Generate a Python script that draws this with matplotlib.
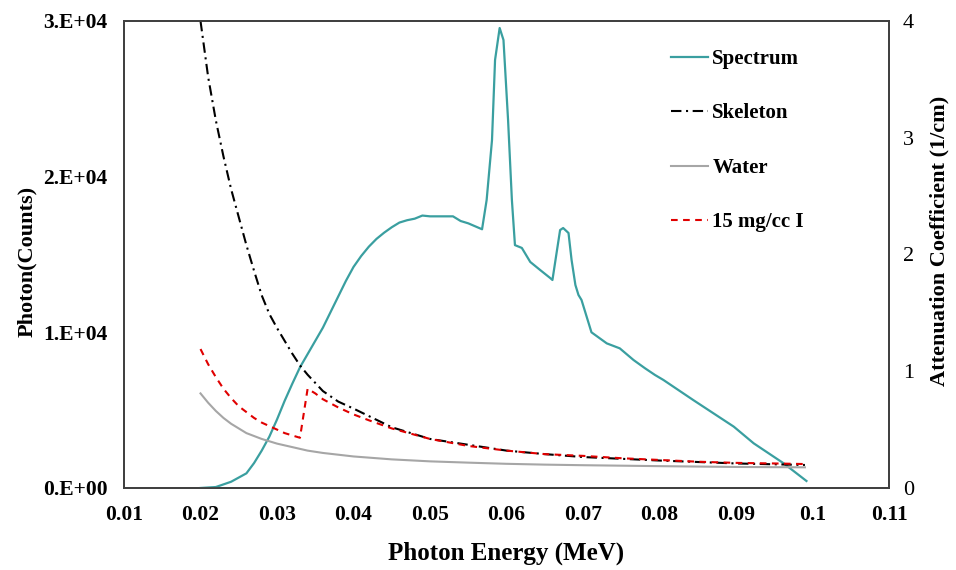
import matplotlib
matplotlib.use("Agg")
import matplotlib.pyplot as plt

plt.rcParams['font.family'] = ['Liberation Serif', 'DejaVu Serif']

# photon spectrum (counts, left axis)
spec_e = [0.020, 0.022, 0.024, 0.026, 0.027, 0.028, 0.029, 0.030, 0.031, 0.032,
          0.033, 0.034, 0.035, 0.036, 0.037, 0.038, 0.039, 0.040, 0.041, 0.042,
          0.043, 0.044, 0.045, 0.046, 0.047, 0.048, 0.049, 0.050, 0.053, 0.054,
          0.055, 0.0568, 0.0574, 0.0581, 0.0585, 0.0591, 0.0596, 0.0602, 0.0607,
          0.0611, 0.062, 0.0631, 0.0644, 0.0657, 0.066, 0.0666, 0.067, 0.0674,
          0.0681, 0.0685, 0.069, 0.0694, 0.0698, 0.0711, 0.0731, 0.0748, 0.0766,
          0.0781, 0.0794, 0.0805, 0.0844, 0.0897, 0.0923, 0.0962, 0.0992]
spec_counts = [0, 60, 400, 940, 1600, 2400, 3300, 4400, 5600, 6700,
               7750, 8600, 9450, 10300, 11300, 12300, 13300, 14200, 14900, 15500,
               16000, 16400, 16750, 17050, 17200, 17300, 17500, 17450, 17450, 17150,
               17000, 16620, 18500, 22350, 27500, 29550, 28780, 23640, 18500,
               15600, 15420, 14520, 14000, 13490, 13360, 15290, 16570, 16700,
               16380, 14650, 13040, 12400, 12077, 10000, 9290, 8970, 8220,
               7690, 7260, 6940, 5650, 3940, 2870, 1590, 450]

# attenuation coefficients (1/cm, right axis)
mu_e = [0.020, 0.021, 0.022, 0.023, 0.024, 0.025, 0.026, 0.027, 0.028, 0.029,
        0.030, 0.031, 0.032, 0.033, 0.034, 0.035, 0.036, 0.038, 0.040, 0.045,
        0.050, 0.055, 0.060, 0.065, 0.070, 0.080, 0.090, 0.099]
mu_skeleton = [4.00, 3.52, 3.15, 2.84, 2.56, 2.32, 2.08, 1.86, 1.65, 1.49,
               1.37, 1.26, 1.15, 1.05, 0.97, 0.90, 0.83, 0.74, 0.68, 0.52,
               0.42, 0.37, 0.32, 0.29, 0.265, 0.235, 0.21, 0.197]
mu_water = [0.81, 0.73, 0.66, 0.60, 0.55, 0.51, 0.47, 0.445, 0.42, 0.40,
            0.38, 0.365, 0.35, 0.335, 0.32, 0.31, 0.30, 0.285, 0.27, 0.245,
            0.228, 0.217, 0.207, 0.20, 0.195, 0.187, 0.18, 0.177]

iod_e = [0.020, 0.021, 0.022, 0.023, 0.024, 0.025, 0.026, 0.027, 0.028, 0.029,
         0.030, 0.031, 0.032, 0.033, 0.034, 0.035, 0.036, 0.038, 0.040, 0.042,
         0.045, 0.050, 0.055, 0.060, 0.065, 0.070, 0.075, 0.080, 0.085, 0.090,
         0.095, 0.099]
mu_iodine = [1.19, 1.06, 0.95, 0.85, 0.77, 0.70, 0.65, 0.60, 0.56, 0.53,
             0.50, 0.47, 0.45, 0.43, 0.85, 0.81, 0.76, 0.69, 0.63, 0.58,
             0.51, 0.42, 0.36, 0.32, 0.29, 0.275, 0.255, 0.24, 0.225, 0.215,
             0.21, 0.205]

x_ticks = [0.01, 0.02, 0.03, 0.04, 0.05, 0.06, 0.07, 0.08, 0.09, 0.1, 0.11]
x_labels = ['0.01', '0.02', '0.03', '0.04', '0.05', '0.06', '0.07', '0.08', '0.09', '0.1', '0.11']
y_ticks = [0, 1e4, 2e4, 3e4]
y_labels = ['0.E+00', '1.E+04', '2.E+04', '3.E+04']
y2_ticks = [0, 1, 2, 3, 4]
y2_labels = ['0', '1', '2', '3', '4']

fig = plt.figure(figsize=(9.56, 5.70), dpi=100)
ax = fig.add_axes([0.1297, 0.1439, 0.8003, 0.8193])
ax2 = ax.twinx()

l1, = ax.plot(spec_e, spec_counts, color='#3a9fa0', lw=1.6, label='Spectrum', zorder=3)
l2, = ax2.plot(mu_e, mu_skeleton, color='black', lw=1.5, linestyle=(0, (5, 2.2, 1, 2.2)), label='Skeleton')
l3, = ax2.plot(mu_e, mu_water, color='#a6a6a6', lw=1.5, label='Water')
l4, = ax2.plot(iod_e, mu_iodine, color='#e00000', lw=1.5, linestyle=(0, (3.2, 2.6)), label='15 mg/cc I')

ax.set_xlim(0.01, 0.11)
ax.set_ylim(0, 3e4)
ax2.set_ylim(0, 4)

ax.set_xticks(x_ticks)
ax.set_xticklabels(x_labels, fontsize=15.5, fontweight='bold')
ax.set_yticks(y_ticks)
ax.set_yticklabels(y_labels, fontsize=15.5, fontweight='bold')
ax2.set_yticks(y2_ticks)
ax2.set_yticklabels(y2_labels, fontsize=16)

ax.tick_params(axis='both', length=0, pad=12)
ax2.tick_params(axis='y', length=0, pad=10)

for a in (ax, ax2):
    for s in a.spines.values():
        s.set_color('#404040')
        s.set_linewidth(1.3)

ax.set_xlabel('Photon Energy (MeV)', fontsize=18, fontweight='bold')
ax.xaxis.set_label_coords(0.5, -0.115)
ax.set_ylabel('Photon(Counts)', fontsize=16, fontweight='bold')
ax.yaxis.set_label_coords(-0.114, 0.485)
ax2.set_ylabel('Attenuation Coefficient (1/cm)', fontsize=16, fontweight='bold')
ax2.yaxis.set_label_coords(1.053, 0.53)

leg = ax2.legend(handles=[l1, l2, l3, l4], loc='upper left', bbox_to_anchor=(0.69, 0.98),
                 frameon=False, prop={'weight': 'bold', 'size': 15},
                 handlelength=1.8, handletextpad=0.2, labelspacing=1.65)

fig.savefig('out.png', dpi=100)
